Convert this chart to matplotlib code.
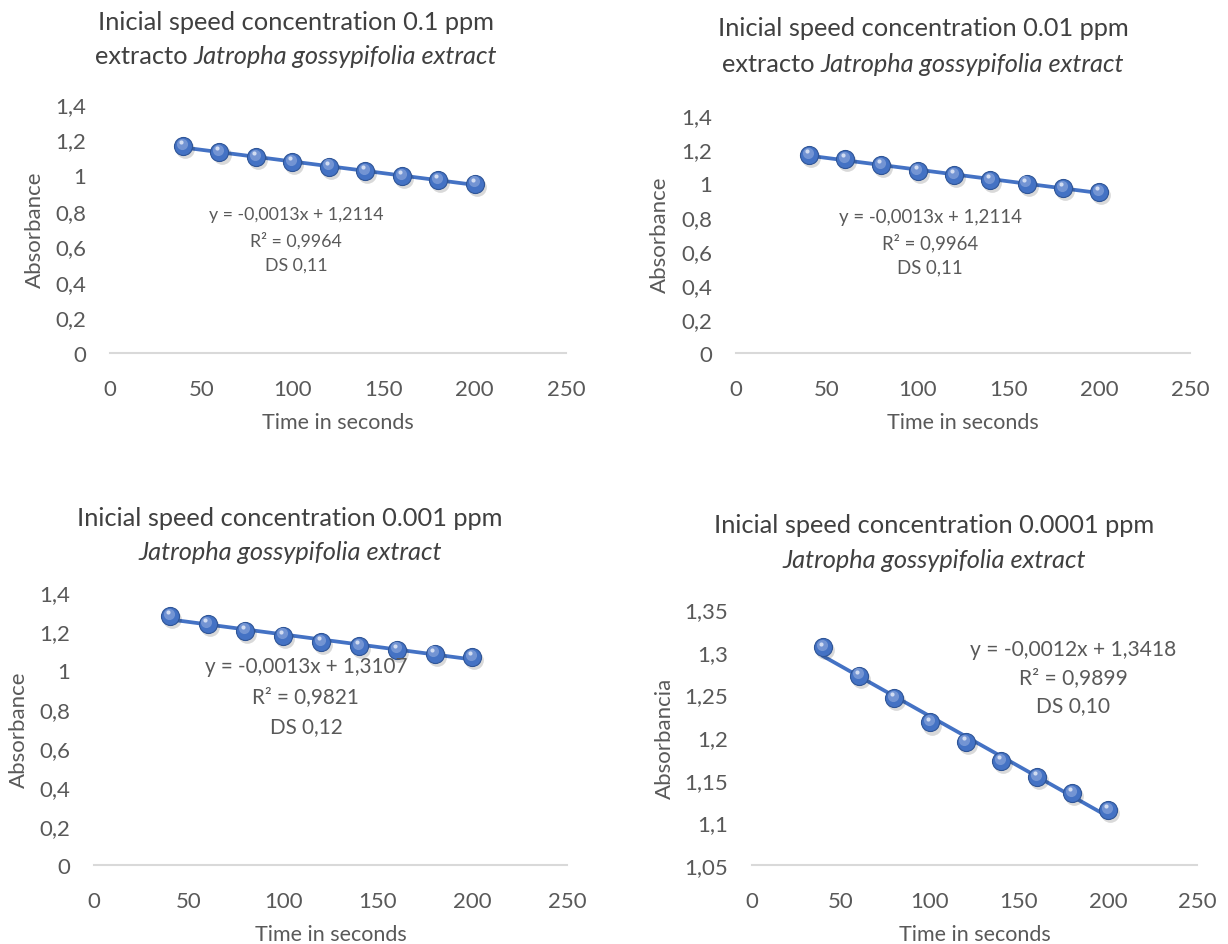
import numpy as np
import matplotlib
matplotlib.use("Agg")
import matplotlib.pyplot as plt
from matplotlib.transforms import offset_copy

plt.rcParams['font.family'] = ['Lato', 'DejaVu Sans']

# ---------------- data ----------------
time_s = [40, 60, 80, 100, 120, 140, 160, 180, 200]
abs_01 = [1.162, 1.128, 1.103, 1.074, 1.048, 1.022, 0.993, 0.972, 0.952]
abs_001 = [1.164, 1.140, 1.106, 1.070, 1.048, 1.019, 0.996, 0.971, 0.946]
abs_0001 = [1.275, 1.236, 1.202, 1.176, 1.145, 1.122, 1.104, 1.084, 1.066]
abs_00001 = [1.305, 1.272, 1.246, 1.217, 1.194, 1.172, 1.153, 1.134, 1.114]

titles_line1 = ["Inicial speed concentration 0.1 ppm",
                "Inicial speed concentration 0.01 ppm",
                "Inicial speed concentration 0.001 ppm",
                "Inicial speed concentration 0.0001 ppm"]
titles_line2_prefix = ["extracto ", "extracto ", "", ""]
species = "Jatropha gossypifolia extract"
ylabels = ["Absorbance", "Absorbance", "Absorbance", "Absorbancia"]
equations = [["y = -0,0013x + 1,2114", "R² = 0,9964", "DS 0,11"],
             ["y = -0,0013x + 1,2114", "R² = 0,9964", "DS 0,11"],
             ["y = -0,0013x + 1,3107", "R² = 0,9821", "DS 0,12"],
             ["y = -0,0012x + 1,3418", "R² = 0,9899", "DS 0,10"]]
x_ticks = [0, 50, 100, 150, 200, 250]
y_ticks_a = [0, 0.2, 0.4, 0.6, 0.8, 1, 1.2, 1.4]
y_ticks_b = [1.05, 1.1, 1.15, 1.2, 1.25, 1.3, 1.35]

# ---------------- layout ----------------
W, H = 1228, 945
fig = plt.figure(figsize=(W / 100, H / 100), dpi=100)

def px_axes(l, r, t, b):
    return fig.add_axes([l / W, 1 - b / H, (r - l) / W, (b - t) / H])

series = [abs_01, abs_001, abs_0001, abs_00001]
boxes = [(110, 566, 105, 354), (736, 1190, 116, 354),
         (94, 567, 593, 866), (752, 1197, 610, 866)]
ylims = [(0, 1.4), (0, 1.4), (0, 1.4), (1.05, 1.35)]
yticks = [y_ticks_a, y_ticks_a, y_ticks_a, y_ticks_b]
title_pos = [(296, 22, 57), (923, 28, 64), (290, 519, 553), (934, 526, 561)]
eq_x = [102, 107, 112, 180.6]
eq_lines_y = [(215, 241, 266), (217, 243, 268), (667, 697, 727), (650, 678, 706)]
eq_size = [12.8, 13.4, 14.9, 15.1]
ylabel_x = [35, 660, 19, 665]
xlabel_y = [423, 423, 935, 935]

GRAY = '#595959'
TITLE_C = '#404040'
BLUE = '#4472C4'

def fmt(v):
    return ('%g' % v).replace('.', ',')

fig.canvas.draw()
renderer = fig.canvas.get_renderer()

def mixed_title(cx, y, parts, size):
    texts, widths = [], []
    for txt, style in parts:
        t = fig.text(0, 1 - y / H, txt, fontsize=size, style=style, color=TITLE_C,
                     va='center', ha='left')
        bb = t.get_window_extent(renderer=renderer)
        texts.append(t)
        widths.append(bb.width)
    x = cx - sum(widths) / 2
    for t, w in zip(texts, widths):
        t.set_x(x / W)
        x += w

for i in range(4):
    l, r, t, b = boxes[i]
    ax = px_axes(l, r, t, b)
    y = series[i]
    ax.set_xlim(0, 250)
    ax.set_ylim(*ylims[i])
    ax.set_xticks(x_ticks)
    ax.set_yticks(yticks[i])
    ax.set_xticklabels([str(v) for v in x_ticks])
    ax.set_yticklabels([fmt(v) for v in yticks[i]])
    for s in ['top', 'right', 'left']:
        ax.spines[s].set_visible(False)
    ax.spines['bottom'].set_color('#D9D9D9')
    ax.spines['bottom'].set_linewidth(1.5)
    ax.tick_params(length=0, labelsize=16, colors=GRAY)
    ax.tick_params(axis='x', pad=19)
    ax.tick_params(axis='y', pad=17)
    ax.patch.set_alpha(0)

    # trend line
    coef = np.polyfit(time_s, y, 1)
    xs = np.array([time_s[0], time_s[-1]])
    ax.plot(xs, np.polyval(coef, xs), color=BLUE, lw=2.7, zorder=2, clip_on=False)

    # sphere-like markers: shadow, body, highlight
    sh = offset_copy(ax.transData, fig=fig, x=1.5, y=-2.2, units='points')
    ax.plot(time_s, y, 'o', ms=13.5, color='#000000', alpha=0.15, mec='none',
            transform=sh, zorder=3, clip_on=False)
    ax.plot(time_s, y, 'o', ms=13, color=BLUE, mec='#2F5597', mew=0.8,
            zorder=4, clip_on=False)
    hl = offset_copy(ax.transData, fig=fig, x=-0.8, y=1.6, units='points')
    ax.plot(time_s, y, 'o', ms=8, color='#7C9BD6', mec='none', alpha=0.85,
            transform=hl, zorder=5, clip_on=False)
    hl2 = offset_copy(ax.transData, fig=fig, x=-1.5, y=2.8, units='points')
    ax.plot(time_s, y, 'o', ms=3, color='#DCE5F5', mec='none', alpha=0.9,
            transform=hl2, zorder=6, clip_on=False)

    # equation text
    cx = l + (r - l) * eq_x[i] / 250
    for line, ly in zip(equations[i], eq_lines_y[i]):
        fig.text(cx / W, 1 - ly / H, line, ha='center', va='center',
                 fontsize=eq_size[i], color=GRAY)

    # axis labels
    fig.text(ylabel_x[i] / W, 1 - ((t + b) / 2) / H, ylabels[i], rotation=90,
             ha='center', va='center', fontsize=16, color=GRAY)
    fig.text(((l + r) / 2) / W, 1 - xlabel_y[i] / H, "Time in seconds",
             ha='center', va='center', fontsize=15.5, color=GRAY)

    # titles
    tcx, y1, y2 = title_pos[i]
    mixed_title(tcx, y1, [(titles_line1[i], 'normal')], 18.3)
    parts = []
    if titles_line2_prefix[i]:
        parts.append((titles_line2_prefix[i], 'normal'))
    parts.append((species, 'italic'))
    mixed_title(tcx, y2, parts, 18.3)

fig.savefig('out.png', dpi=100)
